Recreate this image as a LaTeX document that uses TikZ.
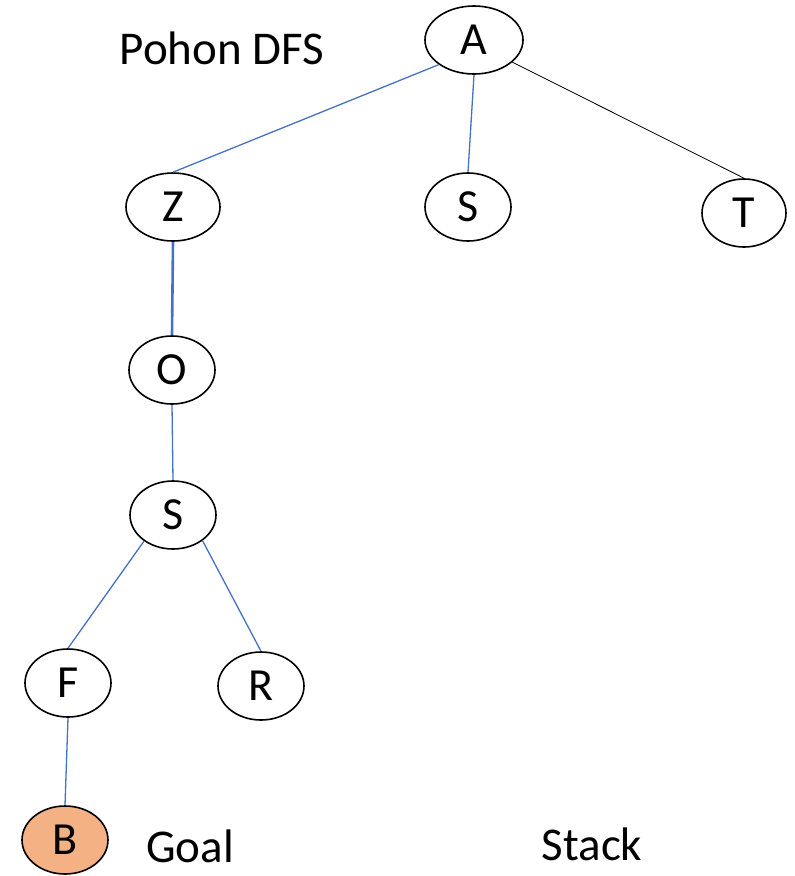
\documentclass[tikz,border=0pt]{standalone}
\usepackage{fontspec}
\setmainfont{Carlito}
\usetikzlibrary{shapes.geometric}

\begin{document}
\begin{tikzpicture}[x=1pt,y=-1pt,
  vert/.style={draw,ellipse,line width=1.6pt,fill=white,inner sep=0pt,
    minimum width=86pt,minimum height=68pt,font=\fontsize{46}{50}\selectfont},
  tedge/.style={draw={rgb,255:red,68;green,114;blue,196},line width=1.3pt},
  lbl/.style={font=\fontsize{47}{52}\selectfont}]

  \useasboundingbox (0,0) rectangle (795,876);

  \draw (474,40) node[vert,minimum width=98pt] (a) {A};
\draw (173,207) node[vert,minimum width=94pt] (z) {Z};
\draw (468,207) node[vert] (s1) {S};
\draw (744,213) node[vert,minimum width=84pt] (t) {T};
\draw (172,370) node[vert] (o) {O};
\draw (173,515) node[vert] (s2) {S};
\draw (68,683) node[vert] (f) {F};
\draw (261,686) node[vert] (r) {R};
\draw (65,840) node[vert,fill={rgb,255:red,244;green,177;blue,131}] (b) {B};

  \draw[tedge] (a.215) -- (z.north);
  \draw[tedge] (a.south) -- (s1.north);
  \draw[line width=0.8pt] (a.-30) -- (t.north);
  \draw[tedge,line width=2.6pt] (z.south) -- (o.north);
  \draw[tedge] (o.south) -- (s2.north);
  \draw[tedge] (s2.222) -- (f.north);
  \draw[tedge] (s2.-41) -- (r.north);
  \draw[tedge] (f.south) -- (b.north);

  \draw (222,48) node[lbl] (title) {Pohon DFS};
  \draw (190,846) node[lbl] (goal) {Goal};
  \draw (592,844) node[lbl] (stack) {Stack};

\end{tikzpicture}
\end{document}
